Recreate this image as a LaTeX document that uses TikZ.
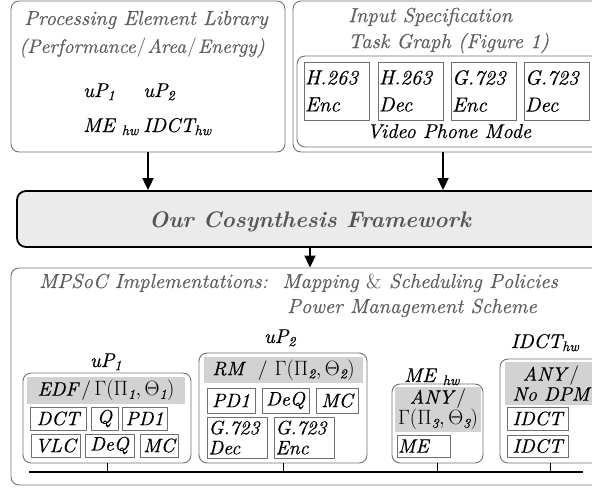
\documentclass[tikz,border=0pt]{standalone}
\usepackage{fontspec}
\setmainfont{lmroman10-regular.otf}[
	ItalicFont=lmroman10-italic.otf,
	BoldFont=lmroman10-bold.otf,
	BoldItalicFont=lmroman10-bolditalic.otf,
	ItalicFeatures={FakeBold=0.4}]
\usetikzlibrary{arrows.meta}

\definecolor{titlegray}{HTML}{5E5E5E}
\definecolor{boxgray}{HTML}{707070}
\definecolor{headgray}{HTML}{D2D2D2}
\definecolor{fwfill}{HTML}{EBEBEB}
\definecolor{fwtext}{HTML}{555555}

\newcommand{\titlefont}{\fontsize{20.3}{26}\selectfont\itshape}
\newcommand{\taskfont}{\fontsize{19.5}{22}\selectfont\itshape}
\newcommand{\gam}[1]{$\Gamma(\Pi_{\mathit{#1}}, \Theta_{\mathit{#1}})$}

\begin{document}
\begin{tikzpicture}[x=1pt,y=-1pt,
	group box/.style={draw=boxgray,line width=0.9pt,rounded corners=8pt,inner sep=0pt},
	head box/.style={fill=headgray,inner sep=0pt,font=\taskfont,align=center},
	task box/.style={draw=boxgray,line width=0.8pt,fill=white,inner sep=1pt,font=\taskfont,align=left},
	title text/.style={text=titlegray,font=\titlefont,inner sep=0pt},
	pe label/.style={font=\fontsize{20}{22}\selectfont\itshape,inner sep=0pt,anchor=base},
	flow/.style={-{Triangle[length=12pt,width=11pt]},line width=1.8pt}
]
	\useasboundingbox (0,0) rectangle (592,491);
	\clip (0,0) rectangle (592,491);

	% processing element library
	\node[group box,minimum width=274pt,minimum height=151pt] (lib) at (148,76.5) {};
	\node[title text] (libT1) at (146,20) {Processing Element Library};
	\node[title text,font=\fontsize{19.5}{26}\selectfont\itshape] (libT2) at (142,48) {(Performance\kern1pt{\upshape/}\kern1ptArea\kern1pt{\upshape/}\kern1ptEnergy)};
	\node[pe label,anchor=base west] (libUPa) at (83,97) {uP\textsubscript{1}};
	\node[pe label,anchor=base west] (libUPb) at (143,97) {uP\textsubscript{2}};
	\node[pe label,anchor=base west] (libME) at (83,132) {ME \textsubscript{hw}};
	\node[pe label,anchor=base west] (libIDCT) at (143,132) {IDCT\textsubscript{hw}};

	% input specification
	\node[group box,minimum width=313pt,minimum height=151pt] (spec) at (449.5,76.5) {};
	\node[title text,anchor=west] (specT1) at (348,17) {Input Specification};
	\node[title text,anchor=west] (specT2) at (348,43) {Task Graph (Figure 1)};
	\node[group box,minimum width=307pt,minimum height=91pt] (vpm) at (450.5,101.5) {};
	\foreach \x/\n/\t in {336.5/h263enc/H.263\\Enc, 410.5/h263dec/H.263\\Dec,
	                      483.5/g723enc/G.723\\Enc, 556.5/g723dec/G.723\\Dec}
		\node[task box,text width=63pt,minimum height=58pt,font=\fontsize{20.5}{27}\selectfont\itshape] (\n) at (\x,91) {\t};
	\node[pe label] (vpmT) at (449,138) {Video Phone Mode};

	% framework
	\node[draw,line width=1.8pt,fill=fwfill,rounded corners=9pt,minimum width=595pt,minimum height=56pt] (fw) at (314.5,219) {};
	\node[text=fwtext,font=\fontsize{22.5}{24}\selectfont\bfseries\itshape,anchor=base] (fwT) at (310,227) {Our Cosynthesis Framework};

	% arrows into and out of the framework
	\coordinate (specOut) at (443,152);
	\coordinate (fwOut) at (310,247);
	\draw[flow] (lib.south) -- (lib.south |- fw.north);
	\draw[flow] (specOut) -- (specOut |- fw.north);

	% implementations
	\node[group box,minimum width=601pt,minimum height=217pt] (impl) at (311.5,376.5) {};
	\draw[flow] (fwOut) -- (fwOut |- impl.north);
	\node[title text,anchor=base west] (implT1) at (39,288) {MPSoC Implementations:\ \ Mapping {\upshape\&} Scheduling Policies};
	\node[title text,anchor=base west] (implT2) at (287,313) {Power Management Scheme};

	% uP1
	\node[group box,minimum width=168pt,minimum height=90pt] (p1) at (107,418) {};
	\node[head box,minimum width=158pt,minimum height=27pt] (p1H) at (106,390.5) {EDF\,{\upshape/}\,\gam{1}};
	\node[pe label] (p1L) at (106,367) {uP\textsubscript{1}};
	\node[task box,minimum width=56pt,minimum height=23pt] (p1dct) at (58,418.5) {DCT};
	\node[task box,minimum width=27pt,minimum height=23pt] (p1q) at (104.5,418.5) {Q};
	\node[task box,minimum width=45pt,minimum height=23pt] (p1pd) at (144.5,418.5) {PD1};
	\node[task box,minimum width=49pt,minimum height=23pt] (p1vlc) at (55.5,445.5) {VLC};
	\node[task box,minimum width=49pt,minimum height=23pt] (p1deq) at (109.5,445.5) {DeQ};
	\node[task box,minimum width=38pt,minimum height=23pt] (p1mc) at (159,445.5) {MC};

	% uP2
	\node[group box,minimum width=168pt,minimum height=110pt] (p2) at (283,408) {};
	\node[head box,minimum width=159pt,minimum height=26pt] (p2H) at (283.5,370) {RM\ \ {\upshape/}\ \gam{2}};
	\node[pe label] (p2L) at (280,343) {uP\textsubscript{2}};
	\node[task box,minimum width=48pt,minimum height=25pt] (p2pd) at (231,400.5) {PD1};
	\node[task box,minimum width=47pt,minimum height=25pt] (p2deq) at (285.5,400.5) {DeQ};
	\node[task box,minimum width=42pt,minimum height=25pt] (p2mc) at (337,400.5) {MC};
	\node[task box,text width=58pt,minimum height=41pt,font=\fontsize{19.5}{20}\selectfont\itshape] (p2dec) at (237.5,437.5) {G.723\\Dec};
	\node[task box,text width=58pt,minimum height=41pt,font=\fontsize{19.5}{20}\selectfont\itshape] (p2enc) at (304.5,437.5) {G.723\\Enc};

	% ME hw
	\node[group box,minimum width=91pt,minimum height=79pt] (me) at (437.5,423.5) {};
	\node[head box,minimum width=86pt,minimum height=45pt,font=\fontsize{19.5}{21}\selectfont\itshape] (meH) at (438,409.5) {ANY\,{\upshape/}\\\gam{3}};
	\node[pe label] (meL) at (432,382) {ME \textsubscript{hw}};
	\node[task box,text width=51pt,minimum height=22pt] (meME) at (423.5,446) {ME};

	% IDCT hw
	\node[group box,minimum width=100pt,minimum height=104pt] (idct) at (550,411) {};
	\node[head box,minimum width=92pt,minimum height=43pt,font=\fontsize{19.5}{20}\selectfont\itshape] (idctH) at (551,383.5) {ANY\,{\upshape/}\\No DPM};
	\node[pe label] (idctL) at (545,348) {IDCT\textsubscript{hw}};
	\node[task box,minimum width=61pt,minimum height=23pt] (idctA) at (537.5,418.5) {IDCT};
	\node[task box,minimum width=61pt,minimum height=22pt] (idctB) at (537.5,446) {IDCT};

	% bus
	\coordinate (busL) at (29,472);
	\coordinate (busR) at (583,472);
	\draw[line width=1.4pt] (busL) -- (busR);
	\foreach \p in {p1,p2,me,idct}
		\draw[line width=0.8pt] (\p.south) -- (\p.south |- busL);
\end{tikzpicture}
\end{document}
